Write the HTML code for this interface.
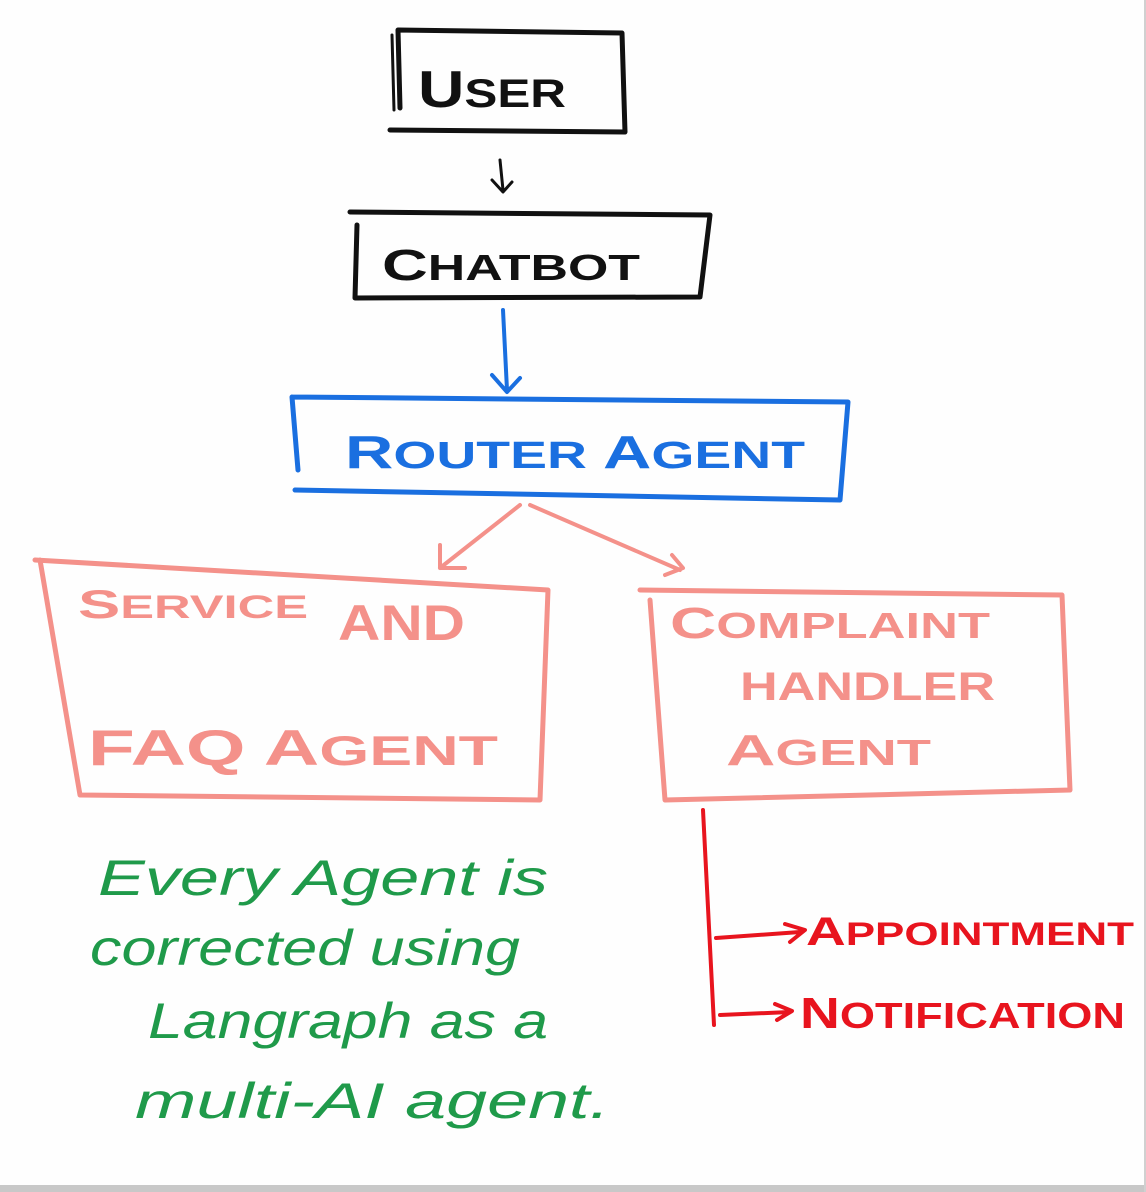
<!DOCTYPE html>
<html><head><meta charset="utf-8"><style>
html,body{margin:0;padding:0;background:#fff;}
svg{display:block}
text{font-family:"Liberation Sans",sans-serif;}
</style></head><body>
<svg width="1146" height="1192" viewBox="0 0 1146 1192" xmlns="http://www.w3.org/2000/svg">
<rect x="0" y="0" width="1146" height="1192" fill="#fefefe"/>
<rect x="0" y="1185" width="1146" height="7" fill="#c8c8c8"/>
<rect x="1144" y="0" width="2" height="1192" fill="#d0d0d0"/>
<g fill="none" stroke-linecap="round" stroke-linejoin="round">
<path d="M398 30 L622 33 L625 132 L390 130 M398 30 L400 108" stroke="#111" stroke-width="5"/>
<path d="M392 35 L394 110" stroke="#111" stroke-width="3"/>
<text x="418" y="107" font-size="52" fill="#111" stroke="none" font-weight="bold" textLength="148" lengthAdjust="spacingAndGlyphs">U<tspan font-size="40">SER</tspan></text>
<path d="M500 160 L503 190 M492 180 L503 192 L512 182" stroke="#111" stroke-width="3"/>
<path d="M350 212 L710 215 L700 297 L355 298 L357 225" stroke="#111" stroke-width="5"/>
<text x="382" y="280" font-size="44" fill="#111" stroke="none" font-weight="bold" textLength="258" lengthAdjust="spacingAndGlyphs">C<tspan font-size="36">HATBOT</tspan></text>
<path d="M503 310 L507 390 M492 375 L507 392 L520 378" stroke="#1a6fe0" stroke-width="4"/>
<path d="M292 397 L848 402 L840 500 L295 490 M292 397 L298 470" stroke="#1a6fe0" stroke-width="5"/>
<text x="345" y="468" font-size="46" fill="#1a6fe0" stroke="none" font-weight="bold" textLength="460" lengthAdjust="spacingAndGlyphs">R<tspan font-size="38">OUTER</tspan> A<tspan font-size="38">GENT</tspan></text>
<path d="M520 505 L440 568 M440 545 L440 568 L465 568 M530 505 L680 570 M665 575 L683 568 L672 555" stroke="#f4918a" stroke-width="4"/>
<path d="M35 560 L548 590 L540 800 L80 795 L40 560" stroke="#f4918a" stroke-width="5"/>
<text x="78" y="618" font-size="40" fill="#f4918a" stroke="none" font-weight="bold" textLength="230" lengthAdjust="spacingAndGlyphs">S<tspan font-size="32">ERVICE</tspan></text>
<text x="338" y="640" font-size="50" fill="#f4918a" stroke="none" font-weight="bold" textLength="127" lengthAdjust="spacingAndGlyphs">AND</text>
<text x="88" y="765" font-size="50" fill="#f4918a" stroke="none" font-weight="bold" textLength="410" lengthAdjust="spacingAndGlyphs">FAQ A<tspan font-size="42">GENT</tspan></text>
<path d="M640 590 L1062 595 L1070 790 L665 800 L650 600" stroke="#f4918a" stroke-width="5"/>
<text x="670" y="638" font-size="44" fill="#f4918a" stroke="none" font-weight="bold" textLength="320" lengthAdjust="spacingAndGlyphs">C<tspan font-size="36">OMPLAINT</tspan></text>
<text x="740" y="700" font-size="40" fill="#f4918a" stroke="none" font-weight="bold" textLength="255" lengthAdjust="spacingAndGlyphs">HANDLER</text>
<text x="726" y="765" font-size="44" fill="#f4918a" stroke="none" font-weight="bold" textLength="205" lengthAdjust="spacingAndGlyphs">A<tspan font-size="36">GENT</tspan></text>
<path d="M703 810 L714 1025 M716 938 L800 932 M785 924 L805 930 L790 942 M720 1015 L790 1012 M775 1004 L792 1011 L777 1020" stroke="#e8141e" stroke-width="4"/>
<text x="806" y="945" font-size="40" fill="#e8141e" stroke="none" font-weight="bold" textLength="328" lengthAdjust="spacingAndGlyphs">A<tspan font-size="32">PPOINTMENT</tspan></text>
<text x="800" y="1028" font-size="44" fill="#e8141e" stroke="none" font-weight="bold" textLength="325" lengthAdjust="spacingAndGlyphs">N<tspan font-size="36">OTIFICATION</tspan></text>
<g fill="#1f9a4a" stroke="none" font-size="50" font-style="italic">
<text x="98" y="895" textLength="450" lengthAdjust="spacingAndGlyphs">Every Agent is</text>
<text x="90" y="965" textLength="430" lengthAdjust="spacingAndGlyphs">corrected using</text>
<text x="148" y="1038" textLength="400" lengthAdjust="spacingAndGlyphs">Langraph as a</text>
<text x="135" y="1118" textLength="475" lengthAdjust="spacingAndGlyphs">multi-AI agent.</text>
</g>
</g>
</svg>
</body></html>
